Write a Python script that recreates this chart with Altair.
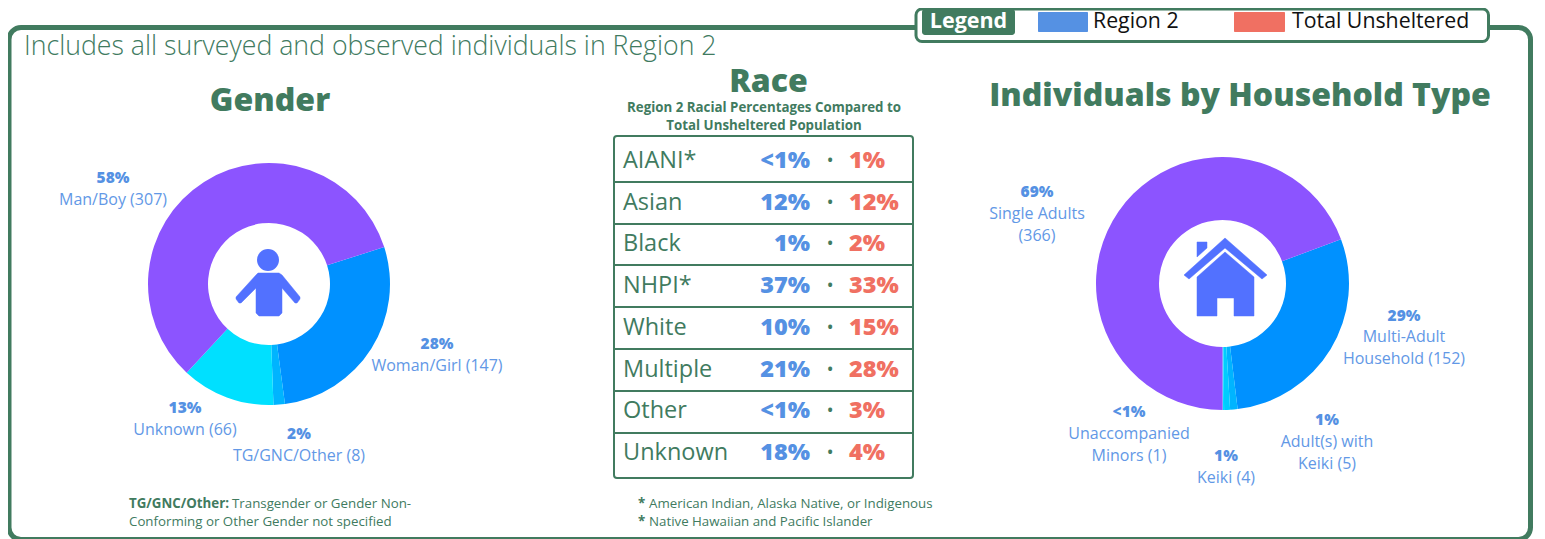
import math
import altair as alt
import pandas as pd

# ---- data ----
gender_labels = ["Woman/Girl", "TG/GNC/Other", "Unknown", "Man/Boy"]
gender_counts = [147, 8, 66, 307]
household_labels = ["Multi-Adult Household", "Adult(s) with Keiki", "Keiki", "Unaccompanied Minors", "Single Adults"]
household_counts = [152, 5, 4, 1, 366]
races = ["AIANI*", "Asian", "Black", "NHPI*", "White", "Multiple", "Other", "Unknown"]
region_pct = ["<1%", "12%", "1%", "37%", "10%", "21%", "<1%", "18%"]
total_pct = ["1%", "12%", "2%", "33%", "15%", "28%", "3%", "4%"]

# ---- styles ----
GREEN = "#417B5F"
BLUE = "#5591E3"
NAME_BLUE = "#6298E6"
RED = "#F07062"
ICON = "#5271FF"
gender_colors = ["#0091FF", "#00B4FF", "#00E0FF", "#8C54FF"]
household_colors = ["#0091FF", "#00B4FF", "#00CCFF", "#00E0FF", "#8C54FF"]
FONT = "Open Sans"
OFF = 8  # page margin: picture pixels -> chart pixels
TEXT_DY = 1


def one():
    return alt.Chart(pd.DataFrame({"a": [0]}))


def box(x0, y0, x1, y1, **kw):
    return one().mark_rect(**kw).encode(
        x=alt.value(x0 - OFF), x2=alt.value(x1 - OFF),
        y=alt.value(y0 - OFF), y2=alt.value(y1 - OFF))


def text(rows, size, weight=400, color=GREEN, align="left"):
    df = pd.DataFrame(rows, columns=["t", "x", "y"])
    df["x"] = df["x"] - OFF
    df["y"] = df["y"] - OFF + TEXT_DY
    return alt.Chart(df).mark_text(
        font=FONT, fontSize=size, fontWeight=weight, color=color, align=align, baseline="middle"
    ).encode(x=alt.X("x:Q", scale=None, axis=None), y=alt.Y("y:Q", scale=None, axis=None), text="t:N")


def donut(labels, counts, colors, cx, cy, r0, r1, start):
    df = pd.DataFrame({"k": labels, "n": counts, "c": colors, "i": range(len(labels))})
    a = math.radians(start)
    return alt.Chart(df).mark_arc(radius=r1, radius2=r0, strokeWidth=0).encode(
        theta=alt.Theta("n:Q", stack=True, scale=alt.Scale(range=[a, a + 2 * math.pi])),
        order=alt.Order("i:Q"),
        fill=alt.Fill("c:N", scale=None),
        x=alt.value(cx - OFF), y=alt.value(cy - OFF))


def icon(points_path, cx, cy):
    return one().mark_point(shape=points_path, size=10000, filled=True, fill=ICON, stroke=ICON,
                            strokeWidth=0.5, opacity=1).encode(
        x=alt.value(cx - OFF), y=alt.value(cy - OFF))


def path(polys, cx, cy):
    out = []
    for poly in polys:
        out.append("M" + " L".join(f"{(x - cx) / 50:.3f},{(y - cy) / 50:.3f}" for x, y in poly) + " Z")
    return " ".join(out)


person_path = path([[(256, 275), (258, 273), (279, 273), (282, 275), (300, 297), (300, 299), (297, 303),
                     (295, 303), (282, 288), (282, 313), (279, 316), (259, 316), (256, 313), (256, 288),
                     (241, 303), (239, 303), (236, 299), (236, 297)]], 268, 284)
house_path = path([
    [(1225, 238), (1267, 275), (1262, 279), (1225, 248), (1189, 279), (1184, 275)],
    [(1225, 252), (1254, 277), (1254, 316), (1234, 316), (1234, 298), (1217, 298), (1217, 316), (1197, 316), (1197, 277)],
    [(1197, 242), (1207, 242), (1207, 248), (1197, 257)],
], 1225, 277)

# ---- frame & legend ----
frame = box(9, 27.5, 1530.5, 539.5, fill="white", stroke=GREEN, strokeWidth=5, cornerRadius=12)
legend_box = box(916, 9, 1488.5, 41.5, fill="white", stroke=GREEN, strokeWidth=3, cornerRadius=6)
chip = box(922, 9, 1015, 35, fill=GREEN, cornerRadius=3)
sw1 = box(1038, 12, 1088, 32, fill=BLUE, cornerRadius=1)
sw2 = box(1234, 12, 1285, 32, fill=RED, cornerRadius=1)

# ---- race table ----
race_df = pd.DataFrame({"race": races, "region": region_pct, "total": total_pct, "dot": "•"})
race_y = alt.Y("race:N", scale=alt.Scale(type="point", domain=races,
                                         range=[160 - OFF + TEXT_DY, 452 - OFF + TEXT_DY], padding=0),
               axis=None, sort=None)


def race_col(field, x, size, weight, color, align):
    return alt.Chart(race_df).mark_text(font=FONT, fontSize=size, fontWeight=weight, color=color,
                                        align=align, baseline="middle").encode(
        x=alt.value(x - OFF), y=race_y, text=alt.Text(f"{field}:N"))


table_box = box(614, 136, 913, 478, fill="white", stroke=GREEN, strokeWidth=2, cornerRadius=3)
row_lines = [
    one().mark_rule(color=GREEN, strokeWidth=2).encode(
        x=alt.value(614 - OFF), x2=alt.value(913 - OFF), y=alt.value(yy - OFF))
    for yy in [182, 224, 265, 307, 349, 391, 433]
]

layers = [frame, legend_box, chip, sw1, sw2, table_box] + row_lines + [
    donut(gender_labels, gender_counts, gender_colors, 269, 284, 61, 121, 72.2),
    donut(household_labels, household_counts, household_colors, 1222.5, 283.5, 63.5, 126.5, 69.5),
    icon(person_path, 268, 284),
    one().mark_point(shape="circle", size=(22 ** 2) * math.pi / 4 * 1.27, filled=True, fill=ICON, opacity=1).encode(
        x=alt.value(268 - OFF), y=alt.value(260 - OFF)),
    icon(house_path, 1225, 277),
    race_col("race", 623, 23.5, 400, GREEN, "left"),
    race_col("region", 810, 23.5, 800, BLUE, "right"),
    race_col("dot", 830, 14, 700, GREEN, "center"),
    race_col("total", 849, 23.5, 800, RED, "left"),
    text([["Legend", 968.5, 21]], 21.5, 700, "white", "center"),
    text([["Region 2", 1093, 21], ["Total Unsheltered", 1292, 21]], 21.3, 400, "#111111"),
    text([["Includes all surveyed and observed individuals in Region 2", 24, 46]], 26.7, 300),
    text([["Gender", 270, 100], ["Race", 768.5, 81], ["Individuals by Household Type", 1240, 95]], 32, 800, GREEN, "center"),
    text([["Region 2 Racial Percentages Compared to", 764, 107], ["Total Unsheltered Population", 764, 125]], 13.3, 700, GREEN, "center"),
    text([["58%", 113, 177], ["28%", 437, 343], ["13%", 185, 407], ["2%", 299, 433],
          ["69%", 1037, 191], ["29%", 1404, 315], ["1%", 1327, 419], ["1%", 1226, 455], ["<1%", 1129, 411]],
         15.5, 800, BLUE, "center"),
    text([["Man/Boy (307)", 113, 199], ["Woman/Girl (147)", 437, 365], ["Unknown (66)", 185, 429],
          ["TG/GNC/Other (8)", 299, 455], ["Single Adults", 1037, 213], ["(366)", 1037, 235],
          ["Multi-Adult", 1404, 336], ["Household (152)", 1404, 358], ["Adult(s) with", 1327, 441],
          ["Keiki (5)", 1327, 463], ["Keiki (4)", 1226, 477], ["Unaccompanied", 1129, 433], ["Minors (1)", 1129, 455]],
         16, 400, NAME_BLUE, "center"),
    text([["TG/GNC/Other:", 129, 503], ["*", 638, 503], ["*", 638, 521]], 13.3, 700),
    text([["Transgender or Gender Non-", 232, 503], ["Conforming or Other Gender not specified", 129, 521],
          ["American Indian, Alaska Native, or Indigenous", 649, 503], ["Native Hawaiian and Pacific Islander", 649, 521]], 13.3),
]

chart = alt.layer(*layers).resolve_scale(theta="independent", x="independent", y="independent").properties(
    width=1529, height=531, padding=0, autosize=alt.AutoSizeParams(type="none"), background="white"
).configure_view(stroke=None)

chart.save("out.html", embed_options={"renderer": "svg", "actions": False})
